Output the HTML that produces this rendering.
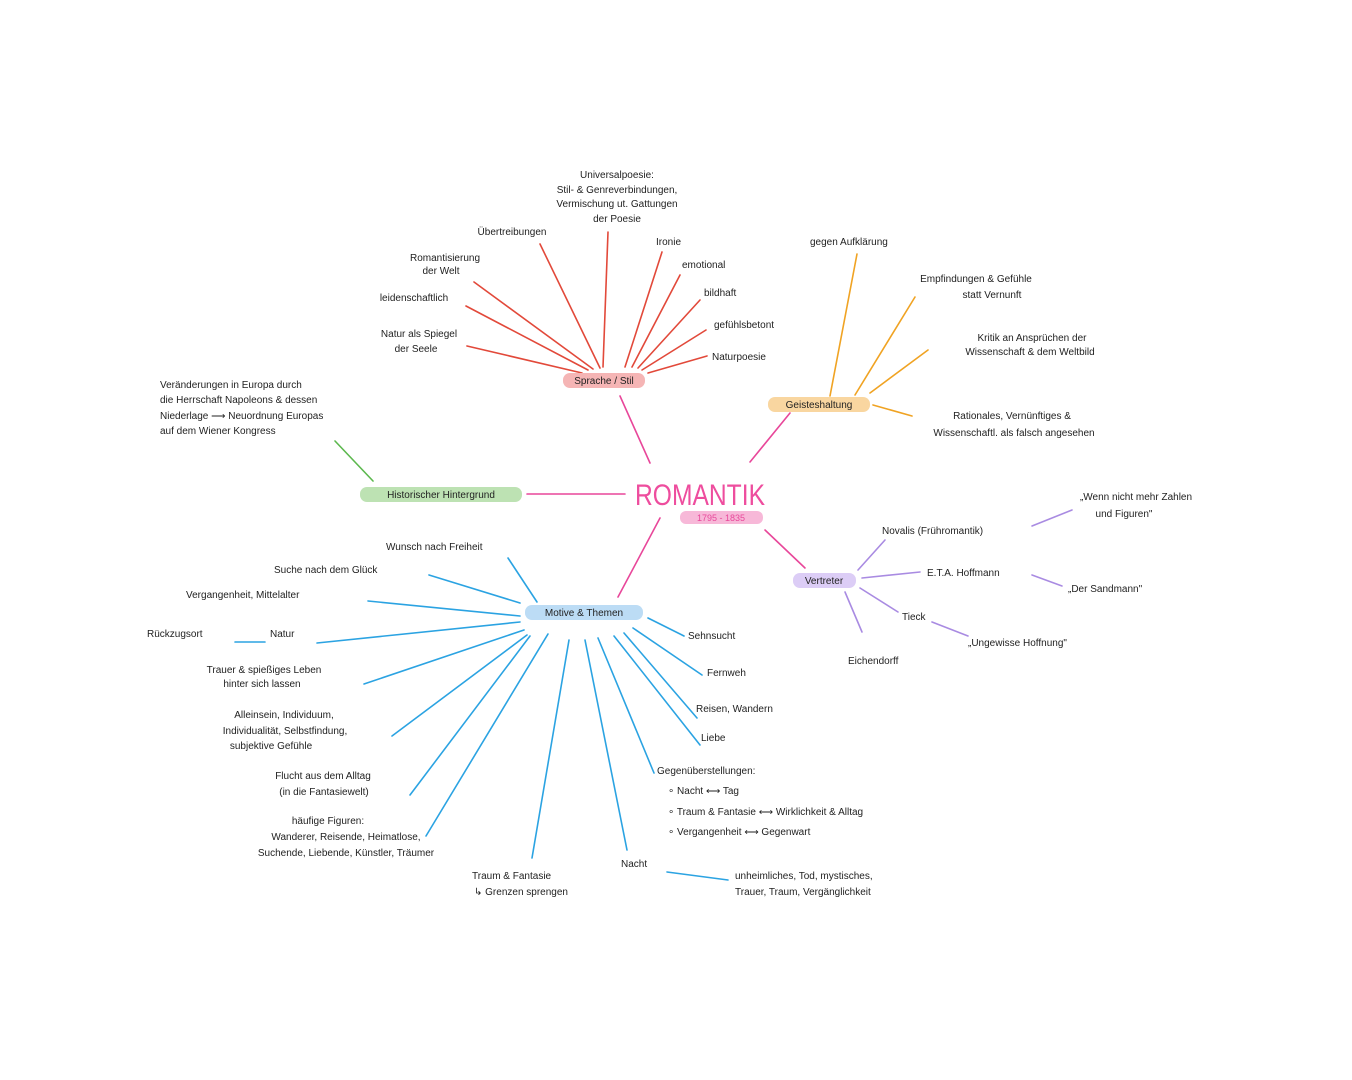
<!DOCTYPE html>
<html><head><meta charset="utf-8"><style>
html,body{margin:0;padding:0;background:#fff}
svg{display:block}
text{font-family:"Liberation Sans",sans-serif;font-size:10px;fill:#222}
</style></head><body>
<svg width="1352" height="1080" viewBox="0 0 1352 1080" xmlns="http://www.w3.org/2000/svg">
<g stroke-width="1.6" fill="none" stroke-linecap="round">
<g stroke="#e8479a">
<line x1="650" y1="463" x2="620" y2="396"/>
<line x1="750" y1="462" x2="790" y2="413"/>
<line x1="625" y1="494" x2="527" y2="494"/>
<line x1="660" y1="518" x2="618" y2="597"/>
<line x1="765" y1="530" x2="805" y2="568"/>
</g>
<g stroke="#e2493a">
<line x1="467" y1="346" x2="582" y2="373"/>
<line x1="466" y1="306" x2="588" y2="370"/>
<line x1="474" y1="282" x2="593" y2="369"/>
<line x1="540" y1="244" x2="600" y2="368"/>
<line x1="608" y1="232" x2="603" y2="367"/>
<line x1="662" y1="252" x2="625" y2="367"/>
<line x1="680" y1="275" x2="632" y2="367"/>
<line x1="700" y1="300" x2="638" y2="368"/>
<line x1="706" y1="330" x2="642" y2="370"/>
<line x1="707" y1="356" x2="648" y2="373"/>
</g>
<g stroke="#f0a323">
<line x1="857" y1="254" x2="830" y2="396"/>
<line x1="915" y1="297" x2="855" y2="395"/>
<line x1="928" y1="350" x2="870" y2="393"/>
<line x1="912" y1="416" x2="873" y2="405"/>
</g>
<line x1="335" y1="441" x2="373" y2="481" stroke="#5cb84e"/>
<g stroke="#a98be2">
<line x1="885" y1="540" x2="858" y2="570"/>
<line x1="862" y1="578" x2="920" y2="572"/>
<line x1="860" y1="588" x2="898" y2="612"/>
<line x1="845" y1="592" x2="862" y2="632"/>
<line x1="1032" y1="526" x2="1072" y2="510"/>
<line x1="1032" y1="575" x2="1062" y2="586"/>
<line x1="932" y1="622" x2="968" y2="636"/>
</g>
<g stroke="#2ba3e2">
<line x1="508" y1="558" x2="537" y2="602"/>
<line x1="429" y1="575" x2="520" y2="603"/>
<line x1="368" y1="601" x2="520" y2="616"/>
<line x1="317" y1="643" x2="520" y2="622"/>
<line x1="235" y1="642" x2="265" y2="642"/>
<line x1="364" y1="684" x2="524" y2="630"/>
<line x1="392" y1="736" x2="527" y2="635"/>
<line x1="410" y1="795" x2="530" y2="636"/>
<line x1="426" y1="836" x2="548" y2="634"/>
<line x1="532" y1="858" x2="569" y2="640"/>
<line x1="627" y1="850" x2="585" y2="640"/>
<line x1="654" y1="773" x2="598" y2="638"/>
<line x1="700" y1="745" x2="614" y2="636"/>
<line x1="697" y1="718" x2="624" y2="633"/>
<line x1="702" y1="675" x2="633" y2="628"/>
<line x1="684" y1="636" x2="648" y2="618"/>
<line x1="667" y1="872" x2="728" y2="880"/>
</g>
</g>
<rect x="563" y="373" width="82" height="15" rx="7" fill="#f5b5b5"/>
<rect x="768" y="397" width="102" height="15" rx="7" fill="#f9d6a0"/>
<rect x="360" y="487" width="162" height="15" rx="7" fill="#bde2b3"/>
<rect x="793" y="573" width="63" height="15" rx="7" fill="#dccdf6"/>
<rect x="525" y="605" width="118" height="15" rx="7" fill="#bcdcf5"/>
<rect x="680" y="511" width="83" height="13" rx="6" fill="#f7b8d8"/>
<text x="604" y="384" text-anchor="middle">Sprache / Stil</text>
<text x="819" y="408" text-anchor="middle">Geisteshaltung</text>
<text x="441" y="498" text-anchor="middle">Historischer Hintergrund</text>
<text x="824" y="584" text-anchor="middle">Vertreter</text>
<text x="584" y="616" text-anchor="middle">Motive &amp; Themen</text>
<text x="635" y="505" textLength="130" lengthAdjust="spacingAndGlyphs" style="font-size:30px;fill:#ee4d9e">ROMANTIK</text>
<text x="721" y="521" text-anchor="middle" style="fill:#e8479a;font-size:9px">1795 - 1835</text>
<g style="font-size:9px">
<text x="617" y="178" text-anchor="middle">Universalpoesie:</text>
<text x="617" y="193" text-anchor="middle">Stil- &amp; Genreverbindungen,</text>
<text x="617" y="207" text-anchor="middle">Vermischung ut. Gattungen</text>
<text x="617" y="222" text-anchor="middle">der Poesie</text>
<text x="512" y="235" text-anchor="middle">Übertreibungen</text>
<text x="445" y="261" text-anchor="middle">Romantisierung</text>
<text x="441" y="274" text-anchor="middle">der Welt</text>
<text x="414" y="301" text-anchor="middle">leidenschaftlich</text>
<text x="419" y="337" text-anchor="middle">Natur als Spiegel</text>
<text x="416" y="352" text-anchor="middle">der Seele</text>
<text x="656" y="245">Ironie</text>
<text x="682" y="268">emotional</text>
<text x="704" y="296">bildhaft</text>
<text x="714" y="328">gefühlsbetont</text>
<text x="712" y="360">Naturpoesie</text>
<text x="810" y="245">gegen Aufklärung</text>
<text x="976" y="282" text-anchor="middle">Empfindungen &amp; Gefühle</text>
<text x="992" y="298" text-anchor="middle">statt Vernunft</text>
<text x="1032" y="341" text-anchor="middle">Kritik an Ansprüchen der</text>
<text x="1030" y="355" text-anchor="middle">Wissenschaft &amp; dem Weltbild</text>
<text x="1012" y="419" text-anchor="middle">Rationales, Vernünftiges &amp;</text>
<text x="1014" y="436" text-anchor="middle">Wissenschaftl. als falsch angesehen</text>
<text x="160" y="388">Veränderungen in Europa durch</text>
<text x="160" y="403">die Herrschaft Napoleons &amp; dessen</text>
<text x="160" y="419">Niederlage ⟶ Neuordnung Europas</text>
<text x="160" y="434">auf dem Wiener Kongress</text>
<text x="882" y="534">Novalis (Frühromantik)</text>
<text x="927" y="576">E.T.A. Hoffmann</text>
<text x="902" y="620">Tieck</text>
<text x="848" y="664">Eichendorff</text>
<text x="1136" y="500" text-anchor="middle">„Wenn nicht mehr Zahlen</text>
<text x="1124" y="517" text-anchor="middle">und Figuren"</text>
<text x="1068" y="592">„Der Sandmann"</text>
<text x="968" y="646">„Ungewisse Hoffnung"</text>
<text x="386" y="550">Wunsch nach Freiheit</text>
<text x="274" y="573">Suche nach dem Glück</text>
<text x="186" y="598">Vergangenheit, Mittelalter</text>
<text x="147" y="637">Rückzugsort</text>
<text x="270" y="637">Natur</text>
<text x="264" y="673" text-anchor="middle">Trauer &amp; spießiges Leben</text>
<text x="262" y="687" text-anchor="middle">hinter sich lassen</text>
<text x="284" y="718" text-anchor="middle">Alleinsein, Individuum,</text>
<text x="285" y="734" text-anchor="middle">Individualität, Selbstfindung,</text>
<text x="271" y="749" text-anchor="middle">subjektive Gefühle</text>
<text x="323" y="779" text-anchor="middle">Flucht aus dem Alltag</text>
<text x="324" y="795" text-anchor="middle">(in die Fantasiewelt)</text>
<text x="328" y="824" text-anchor="middle">häufige Figuren:</text>
<text x="346" y="840" text-anchor="middle">Wanderer, Reisende, Heimatlose,</text>
<text x="346" y="856" text-anchor="middle">Suchende, Liebende, Künstler, Träumer</text>
<text x="472" y="879">Traum &amp; Fantasie</text>
<text x="474" y="895">↳ Grenzen sprengen</text>
<text x="621" y="867">Nacht</text>
<text x="735" y="879">unheimliches, Tod, mystisches,</text>
<text x="735" y="895">Trauer, Traum, Vergänglichkeit</text>
<text x="688" y="639">Sehnsucht</text>
<text x="707" y="676">Fernweh</text>
<text x="696" y="712">Reisen, Wandern</text>
<text x="701" y="741">Liebe</text>
<text x="657" y="774">Gegenüberstellungen:</text>
<text x="668" y="794">∘ Nacht ⟷ Tag</text>
<text x="668" y="815">∘ Traum &amp; Fantasie ⟷ Wirklichkeit &amp; Alltag</text>
<text x="668" y="835">∘ Vergangenheit ⟷ Gegenwart</text>
</g>
</svg>
</body></html>
